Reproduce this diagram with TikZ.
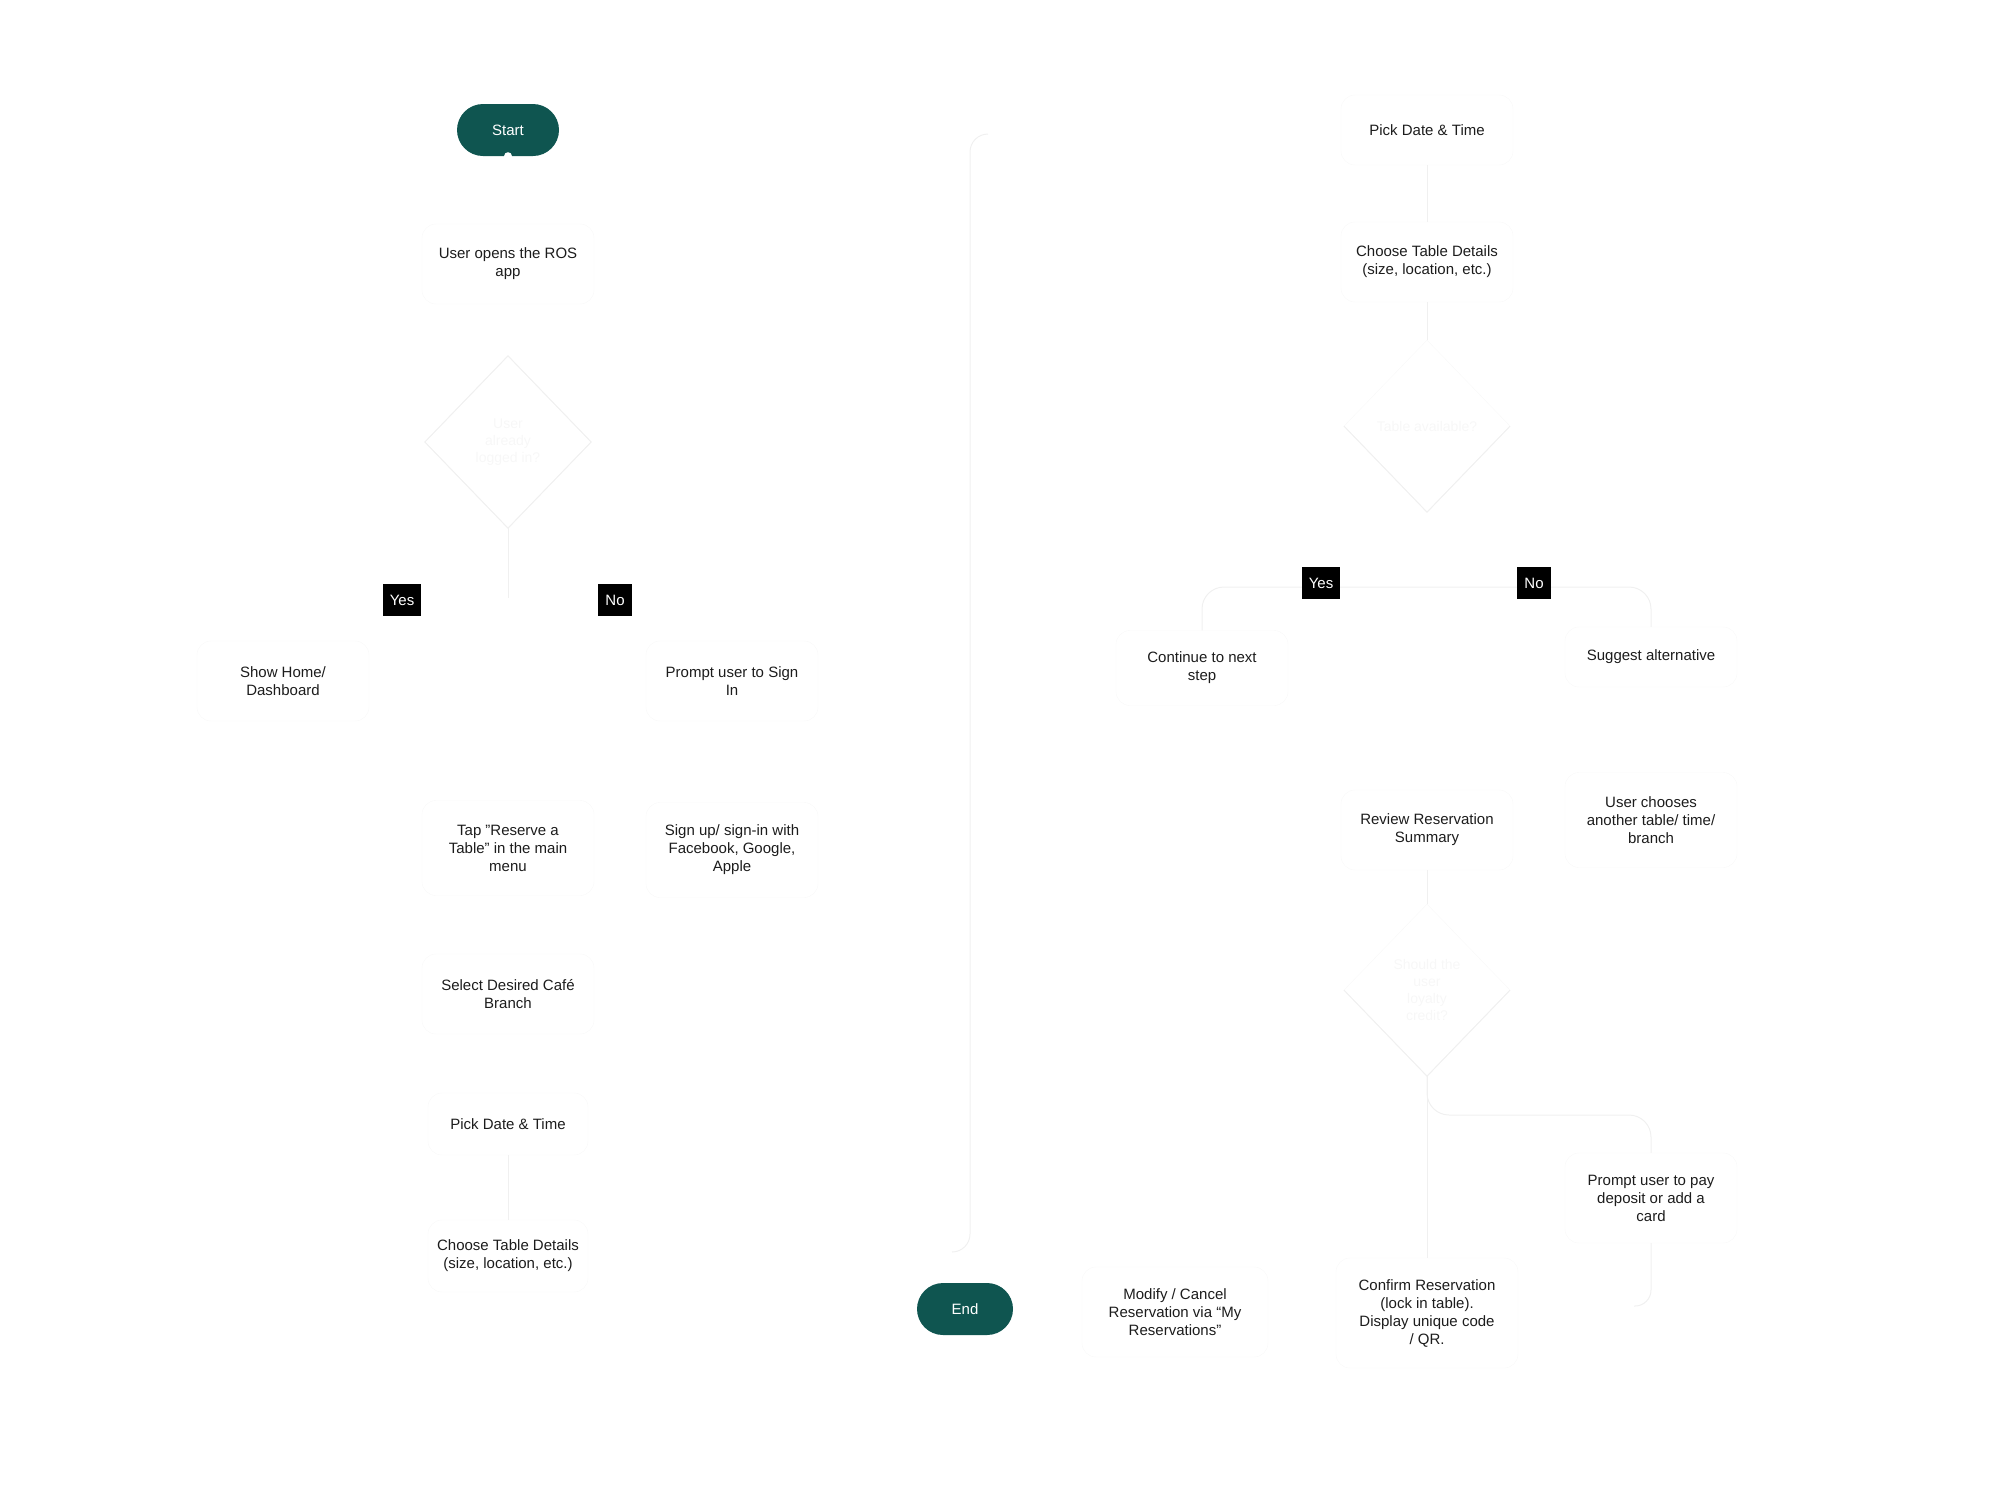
\documentclass[tikz,border=0pt]{standalone}
\usepackage{fontspec}
\setmainfont{Liberation Sans}
\usepackage{tikz}
\usetikzlibrary{shapes.geometric,positioning,calc}

\definecolor{termfill}{HTML}{0F5550}
\definecolor{linegray}{HTML}{F0F0F0}
\definecolor{boxgray}{HTML}{F8F8F8}
\definecolor{inkgray}{HTML}{1C1C1C}
\definecolor{ghost}{HTML}{F7F7F7}

\tikzset{
  terminal/.style={fill=termfill, text=white, rounded corners=26pt, minimum width=102pt, minimum height=52pt, font=\fontsize{15}{18}\selectfont},
  process/.style={draw=boxgray, rounded corners=14pt, align=center, text=inkgray, minimum width=172pt, minimum height=80pt, font=\fontsize{15}{18}\selectfont},
  decision/.style={diamond, draw=boxgray, align=center, text=ghost, minimum width=166pt, minimum height=172pt, inner sep=0pt, font=\fontsize{14}{17}\selectfont},
  tag/.style={fill=black, text=white, minimum height=32pt, inner xsep=7pt, font=\fontsize{15}{18}\selectfont},
  link/.style={draw=linegray, line width=1pt},
}

\begin{document}
\begin{tikzpicture}[x=1pt,y=-1pt]
    \useasboundingbox (0,0) rectangle (2001,1500);

    % Left column
    \node[terminal] (start) at (508,130) {Start};
    \fill[white] (start.south) circle (4pt);
    \node[process] (open) at (508,264) {User opens the ROS\\app};
    \node[decision] (login) at (508,442) {User\\already\\logged in?};
    \draw[link] (login.west) -- (login.north) -- (login.east) -- (login.south) -- cycle;
    \coordinate (split) at (508,598);
    \draw[link] (login.south) -- (split);
    \node[tag] (yesA) at (402,600) {Yes};
    \node[tag] (noA) at (615,600) {No};
    \node[process] (home) at (283,681) {Show Home/\\Dashboard};
    \node[process] (signin) at (732,681) {Prompt user to Sign\\In};
    \node[process, minimum height=95pt] (tap) at (508,848) {Tap "Reserve a\\Table” in the main\\menu};
    \node[process, minimum height=95pt] (signup) at (732,850) {Sign up/ sign-in with\\Facebook, Google,\\Apple};
    \node[process] (branch) at (508,994) {Select Desired Café\\Branch};
    \node[process, minimum width=160pt, minimum height=62pt] (dateA) at (508,1124) {Pick Date \& Time};
    \node[process, minimum width=160pt, minimum height=72pt] (tableA) at (508,1256) {Choose Table Details\\(size, location, etc.)};
    \draw[link] (dateA.south) -- (tableA.north);

    % Right column
    \node[process, minimum height=70pt] (dateB) at (1427,130) {Pick Date \& Time};
    \node[process] (tableB) at (1427,262) {Choose Table Details\\(size, location, etc.)};
    \node[decision] (avail) at (1427,426) {Table available?};
    \draw[link] (avail.west) -- (avail.south) -- (avail.east);
    \draw[link] (dateB.south) -- (tableB.north);
    \draw[link] (tableB.south) -- (avail.north);

    \node[process, minimum height=75pt] (next) at (1202,668) {Continue to next\\step};
    \node[process, minimum height=60pt] (alt) at (1651,657) {Suggest alternative};
    \coordinate (fork) at (1427,587);
    \draw[link, rounded corners=22pt] (next.north) |- (fork) -| (alt.north);
    \node[tag] (yesB) at (1321,583) {Yes};
    \node[tag] (noB) at (1534,583) {No};

    \node[process] (review) at (1427,830) {Review Reservation\\Summary};
    \node[process, minimum height=95pt] (other) at (1651,820) {User chooses\\another table/ time/\\branch};
    \node[decision] (credit) at (1427,990) {Should the\\user\\loyalty\\credit?};
    \draw[link] (credit.west) -- (credit.south) -- (credit.east);
    \draw[link] (review.south) -- (credit.north);

    \node[process, minimum height=90pt] (pay) at (1651,1198) {Prompt user to pay\\deposit or add a\\card};
    \node[process, minimum width=182pt, minimum height=110pt] (confirm) at (1427,1313) {Confirm Reservation\\(lock in table).\\Display unique code\\/ QR.};
    \node[process, minimum width=186pt, minimum height=90pt] (modify) at (1175,1312) {Modify / Cancel\\Reservation via “My\\Reservations”};
    \node[terminal, minimum width=96pt] (finish) at (965,1309) {End};

    \coordinate (kink) at (1427,1115);
    \coordinate (payEnd) at (1634,1306);
    \draw[link] (credit.south) -- (confirm.north);
    \draw[link, rounded corners=22pt] (credit.south) -- (kink) -| (pay.north);
    \draw[link, rounded corners=16pt] (pay.south) |- (payEnd);

    % return line
    \coordinate (backTop) at (988,134);
    \coordinate (backMid) at (970,700);
    \coordinate (backEnd) at (952,1252);
    \draw[link, rounded corners=18pt] (backTop) -| (backMid) |- (backEnd);
\end{tikzpicture}
\end{document}
